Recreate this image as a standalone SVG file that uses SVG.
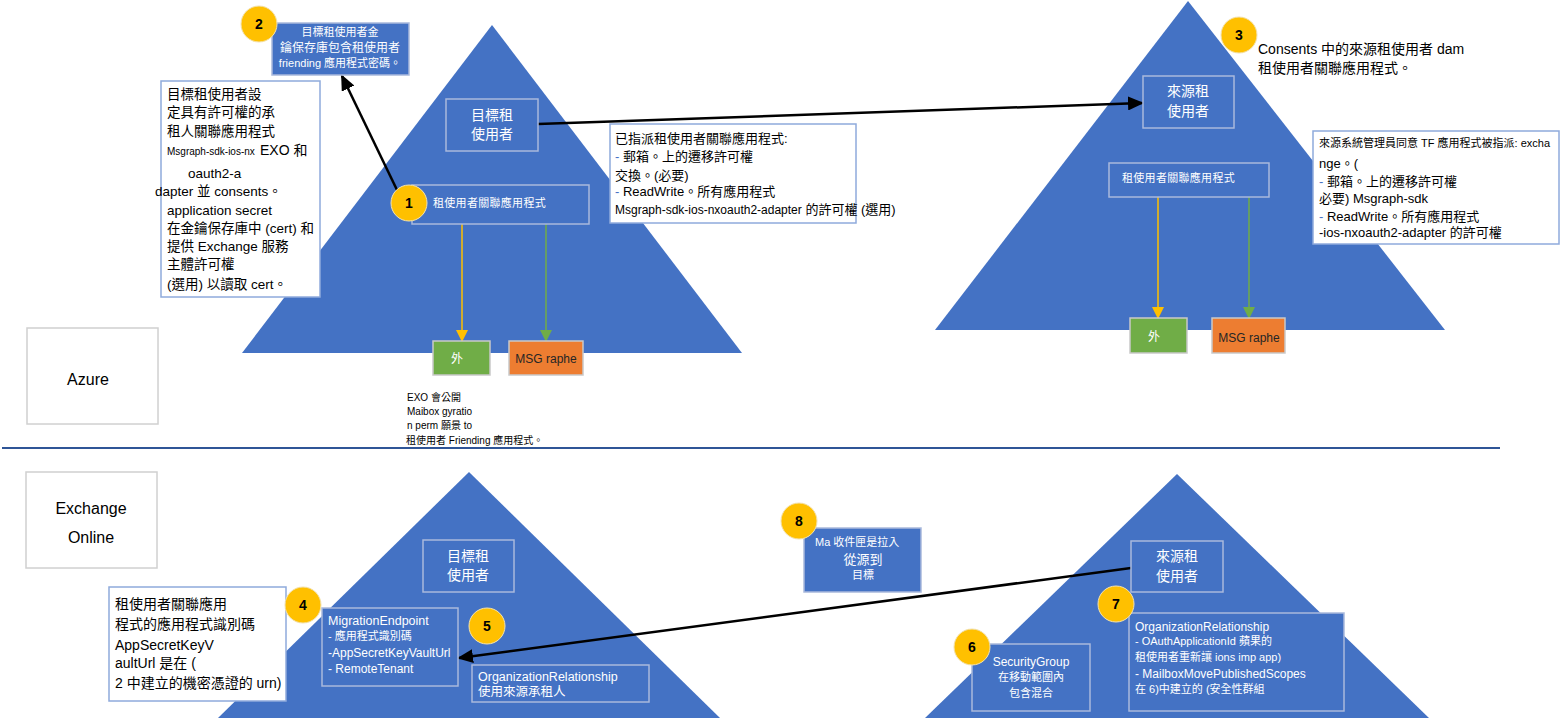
<svg xmlns="http://www.w3.org/2000/svg" width="1561" height="719" viewBox="0 0 1561 719">
<style>
text{font-family:'Liberation Sans','Noto Sans CJK TC',sans-serif;}
.tri{fill:#4472C4;}
.bb{fill:#4472C4;stroke:#A9B9DC;stroke-width:1.5;}
.wb{fill:#FFFFFF;stroke:#8FAADC;stroke-width:1.5;}
.gb{fill:#FFFFFF;stroke:#D0D0D0;stroke-width:1.5;}
.gr{fill:#70AD47;stroke:#C9C9C9;stroke-width:1.5;}
.or{fill:#ED7D31;stroke:#C9C9C9;stroke-width:1.5;}
.cir{fill:#FFC000;stroke:#F2E2B0;stroke-width:1;}
.num{font-size:14px;font-weight:bold;fill:#000;text-anchor:middle;}
.w{fill:#FFFFFF;}
.k{fill:#000000;}
.c{text-anchor:middle;}
.blk{stroke:#000;stroke-width:2.5;fill:none;}
</style>
<defs>
<marker id="ak" markerUnits="userSpaceOnUse" markerWidth="16" markerHeight="14" refX="14" refY="7" orient="auto"><path d="M0,0 L16,7 L0,14 Z" fill="#000"/></marker>
<marker id="ay" markerUnits="userSpaceOnUse" markerWidth="12" markerHeight="12" refX="11" refY="6" orient="auto"><path d="M0,0 L12,6 L0,12 Z" fill="#FFC000"/></marker>
<marker id="ag" markerUnits="userSpaceOnUse" markerWidth="12" markerHeight="12" refX="11" refY="6" orient="auto"><path d="M0,0 L12,6 L0,12 Z" fill="#70AD47"/></marker>
</defs>

<g id="background-shapes">
<polygon class="tri" points="492,25 242,353 742,353"/>
<polygon class="tri" points="1188,1 935,330 1445,330"/>
<polygon class="tri" points="469,472 218,718 720,718"/>
<polygon class="tri" points="1177,474 925,718 1429,718"/>
<line x1="2" y1="448" x2="1500" y2="448" stroke="#2F5597" stroke-width="2"/>
</g>

<g id="azure-label">
<rect class="gb" x="27" y="328" width="131" height="96"/>
<text x="88" y="385" font-size="16" class="k c">Azure</text>
</g>
<g id="exchange-label">
<rect class="gb" x="26" y="472" width="131" height="96"/>
<text x="91" y="514" font-size="16" class="k c">Exchange</text>
<text x="91" y="543" font-size="16" class="k c">Online</text>
</g>

<g id="connectors">
<line class="blk" x1="397" y1="190" x2="342" y2="76" marker-end="url(#ak)"/>
<line class="blk" x1="538" y1="124" x2="1142" y2="103" marker-end="url(#ak)"/>
<line class="blk" x1="1131" y1="568" x2="459" y2="658" marker-end="url(#ak)"/>
<line x1="462" y1="224" x2="462" y2="341" stroke="#FFC000" stroke-width="1.5" marker-end="url(#ay)"/>
<line x1="546" y1="224" x2="546" y2="341" stroke="#70AD47" stroke-width="1.5" marker-end="url(#ag)"/>
<line x1="1158" y1="197" x2="1158" y2="318" stroke="#FFC000" stroke-width="1.5" marker-end="url(#ay)"/>
<line x1="1249" y1="197" x2="1249" y2="318" stroke="#70AD47" stroke-width="1.5" marker-end="url(#ag)"/>
</g>

<g id="keyvault-box">
<rect class="bb" x="272" y="23" width="137" height="52"/>
<text x="340" y="36" font-size="11" class="w c">目標租使用者金</text>
<text x="340" y="52" font-size="12" class="w c">鑰保存庫包含租使用者</text>
<text x="340" y="67" font-size="11" class="w c">friending 應用程式密碼。</text>
</g>
<g id="step2"><circle class="cir" cx="259" cy="24" r="18"/><text class="num" x="259" y="29">2</text></g>

<g id="target-note">
<rect class="wb" x="161" y="81" width="159" height="216"/>
<g font-size="13.5" class="k">
<text x="167" y="99">目標租使用者設</text>
<text x="167" y="117">定具有許可權的承</text>
<text x="167" y="136">租人關聯應用程式</text>
<text x="167" y="155"><tspan font-size="10">Msgraph-sdk-ios-nx</tspan><tspan x="260" font-size="14">EXO 和</tspan></text>
<text x="188" y="178">oauth2-a</text>
<text x="155" y="196">dapter 並 consents。</text>
<text x="167" y="215">application secret</text>
<text x="167" y="233">在金鑰保存庫中 (cert) 和</text>
<text x="167" y="251">提供 Exchange 服務</text>
<text x="167" y="269">主體許可權</text>
<text x="167" y="289">(選用) 以讀取 cert。</text>
</g>
</g>

<g id="target-tenant-top">
<rect class="bb" x="446" y="99" width="92" height="52"/>
<text x="492" y="120" font-size="14" class="w c">目標租</text>
<text x="492" y="139" font-size="14" class="w c">使用者</text>
</g>

<g id="target-app">
<rect class="bb" x="412" y="185" width="177" height="39"/>
<text x="433" y="207" font-size="11" class="w" letter-spacing="0.3">租使用者關聯應用程式</text>
</g>
<g id="step1"><circle class="cir" cx="409" cy="203" r="18"/><text class="num" x="409" y="208">1</text></g>

<g id="assigned-note">
<rect class="wb" x="610" y="124" width="246" height="99"/>
<g font-size="13" class="k">
<text x="615" y="143">已指派租使用者關聯應用程式:</text>
<text x="615" y="161"><tspan fill="#4472C4">-</tspan> 郵箱。上的遷移許可權</text>
<text x="615" y="180">交換。(必要)</text>
<text x="615" y="196"><tspan fill="#4472C4">-</tspan> ReadWrite。所有應用程式</text>
<text x="615" y="214"><tspan font-size="12">Msgraph-sdk-ios-nxoauth2-adapter</tspan> 的許可權 (選用)</text>
</g>
</g>

<g id="exo-box">
<rect class="gr" x="433" y="341" width="57" height="34"/>
<text x="457" y="363" font-size="12" class="w c">外</text>
</g>
<g id="msgraph-box">
<rect class="or" x="509" y="341" width="74" height="34"/>
<text x="546" y="363" font-size="12" class="c" fill="#262626">MSG raphe</text>
</g>
<g id="exo-note" class="k">
<text x="407" y="401" font-size="10">EXO 會公開</text>
<text x="407" y="415" font-size="10">Maibox gyratio</text>
<text x="407" y="429" font-size="10">n perm 願景 to</text>
<text x="406" y="444" font-size="10">租使用者 Friending 應用程式。</text>
</g>

<g id="source-tenant-top">
<rect class="bb" x="1143" y="76" width="91" height="52"/>
<text x="1188" y="96" font-size="14" class="w c">來源租</text>
<text x="1188" y="116" font-size="14" class="w c">使用者</text>
</g>
<g id="step3"><circle class="cir" cx="1239" cy="35" r="18"/><text class="num" x="1239" y="40">3</text></g>
<g id="consent-note" class="k">
<text x="1258" y="54" font-size="14">Consents 中的來源租使用者 dam</text>
<text x="1258" y="73" font-size="14">租使用者關聯應用程式。</text>
</g>

<g id="source-app">
<rect class="bb" x="1109" y="163" width="160" height="34"/>
<text x="1122" y="182" font-size="11" class="w" letter-spacing="0.3">租使用者關聯應用程式</text>
</g>

<g id="source-admin-note">
<rect class="wb" x="1313" y="131" width="246" height="113"/>
<g class="k">
<text x="1319" y="147" font-size="11">來源系統管理員同意 TF 應用程式被指派: excha</text>
<text x="1319" y="168" font-size="13">nge。(</text>
<text x="1319" y="186" font-size="13"><tspan fill="#4472C4">-</tspan> 郵箱。上的遷移許可權</text>
<text x="1319" y="203" font-size="13">必要) Msgraph-sdk</text>
<text x="1319" y="221" font-size="13"><tspan fill="#4472C4">-</tspan> ReadWrite。所有應用程式</text>
<text x="1319" y="237" font-size="13">-ios-nxoauth2-adapter 的許可權</text>
</g>
</g>

<g id="exo-box-2">
<rect class="gr" x="1130" y="318" width="57" height="35"/>
<text x="1154" y="341" font-size="12" class="w c">外</text>
</g>
<g id="msgraph-box-2">
<rect class="or" x="1212" y="318" width="73" height="35"/>
<text x="1249" y="342" font-size="12" class="c" fill="#262626">MSG raphe</text>
</g>

<g id="target-tenant-bottom">
<rect class="bb" x="423" y="540" width="91" height="52"/>
<text x="468" y="561" font-size="14" class="w c">目標租</text>
<text x="468" y="580" font-size="14" class="w c">使用者</text>
</g>

<g id="appid-note">
<rect class="wb" x="109" y="587" width="177" height="114"/>
<g font-size="14" class="k">
<text x="115" y="609">租使用者關聯應用</text>
<text x="115" y="629">程式的應用程式識別碼</text>
<text x="115" y="650">AppSecretKeyV</text>
<text x="115" y="668">aultUrl 是在 (</text>
<text x="115" y="688">2 中建立的機密憑證的 urn)</text>
</g>
</g>
<g id="step4"><circle class="cir" cx="303" cy="605" r="18"/><text class="num" x="303" y="610">4</text></g>

<g id="migration-endpoint">
<rect class="bb" x="322" y="608" width="136" height="78"/>
<g class="w">
<text x="328" y="625" font-size="12.5">MigrationEndpoint</text>
<text x="328" y="640" font-size="11">- 應用程式識別碼</text>
<text x="328" y="657" font-size="12">-AppSecretKeyVaultUrl</text>
<text x="328" y="673" font-size="12">- RemoteTenant</text>
</g>
</g>
<g id="step5"><circle class="cir" cx="487" cy="626" r="18"/><text class="num" x="487" y="631">5</text></g>

<g id="org-rel-target">
<rect class="bb" x="472" y="665" width="177" height="37"/>
<text x="478" y="681" font-size="12.5" class="w">OrganizationRelationship</text>
<text x="478" y="696" font-size="12.5" class="w">使用來源承租人</text>
</g>

<g id="pull-box">
<rect class="bb" x="804" y="528" width="117" height="64"/>
<text x="815" y="546" font-size="11" class="w">Ma 收件匣是拉入</text>
<text x="863" y="564" font-size="13" class="w c">從源到</text>
<text x="863" y="579" font-size="11" class="w c">目標</text>
</g>
<g id="step8"><circle class="cir" cx="799" cy="521" r="18"/><text class="num" x="799" y="526">8</text></g>

<g id="source-tenant-bottom">
<rect class="bb" x="1131" y="541" width="92" height="51"/>
<text x="1177" y="561" font-size="14" class="w c">來源租</text>
<text x="1177" y="581" font-size="14" class="w c">使用者</text>
</g>

<g id="security-group">
<rect class="bb" x="972" y="644" width="118" height="67"/>
<text x="1031" y="666" font-size="12" class="w c">SecurityGroup</text>
<text x="1031" y="681" font-size="11" class="w c">在移動範圍內</text>
<text x="1031" y="697" font-size="11" class="w c">包含混合</text>
</g>
<g id="step6"><circle class="cir" cx="972" cy="647" r="18"/><text class="num" x="972" y="652">6</text></g>

<g id="org-rel-source">
<rect class="bb" x="1129" y="613" width="215" height="98"/>
<g class="w">
<text x="1135" y="631" font-size="12">OrganizationRelationship</text>
<text x="1135" y="645" font-size="11">- OAuthApplicationId 蘋果的</text>
<text x="1135" y="661" font-size="11">租使用者重新讓 ions imp app)</text>
<text x="1135" y="678" font-size="12">- MailboxMovePublishedScopes</text>
<text x="1135" y="693" font-size="11">在 6)中建立的 (安全性群組</text>
</g>
</g>
<g id="step7"><circle class="cir" cx="1116" cy="604" r="18"/><text class="num" x="1116" y="609">7</text></g>
</svg>
